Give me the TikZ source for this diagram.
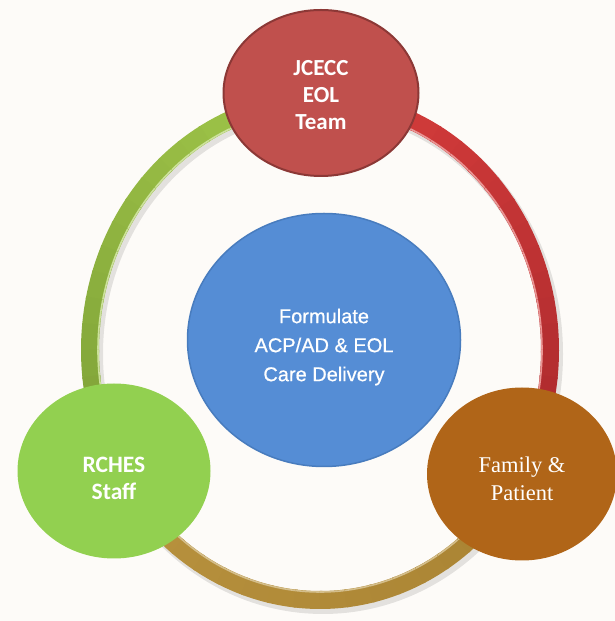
\documentclass[tikz,border=0pt]{standalone}
\usepackage{fontspec}
\usepackage{tikz}
\usepackage{xcolor}
\usetikzlibrary{shapes.geometric, calc, positioning}

\setmainfont{Liberation Serif}
\newfontfamily\calibri{Carlito}
\newfontfamily\arial[FakeBold=0.6]{Liberation Sans}

\definecolor{paper}{RGB}{253,251,248}
\definecolor{teamred}{RGB}{192,80,77}
\definecolor{teamedge}{RGB}{140,56,54}
\definecolor{careblue}{RGB}{85,141,213}
\definecolor{careedge}{RGB}{72,124,190}
\definecolor{staffgreen}{RGB}{146,208,80}
\definecolor{familybrown}{RGB}{176,101,24}
\definecolor{redtop}{RGB}{216,62,60}
\definecolor{redlow}{RGB}{168,40,44}
\definecolor{greentop}{RGB}{162,200,74}
\definecolor{greenlow}{RGB}{124,158,54}
\definecolor{goldleft}{RGB}{184,146,62}
\definecolor{goldright}{RGB}{168,130,50}

\begin{document}
\begin{tikzpicture}[
    x=1pt, y=1pt,
    member/.style={ellipse, inner sep=0pt},
    caption/.style={text=white, align=center},
    band/.style={line width=18pt},
    shine/.style={line width=1.6pt},
    bandshadow/.style={line width=20pt, black, opacity=0.10}
]
    % Canvas
    \fill[paper] (0,0) rectangle (615,621);
    \useasboundingbox (0,0) rectangle (615,621);

    % Centre of the ring
    \coordinate (hub) at (320,271);

    % Soft shadow under the ring
    \draw[bandshadow] ([shift={(3,-4)}]hub) ellipse [x radius=230, y radius=250];

    % Left arc (green), top to bottom left
    \foreach \i in {0,...,19}{
        \pgfmathsetmacro\a{90+\i*6}
        \pgfmathtruncatemacro\p{100-\i*5}
        \draw[band, draw=greentop!\p!greenlow] ([shift={(\a:230 and 250)}]hub)
            arc[start angle=\a, end angle=\a+6.6, x radius=230, y radius=250];
        \draw[shine, draw=white!45!greentop] ([shift={(\a:222 and 242)}]hub)
            arc[start angle=\a, end angle=\a+6.6, x radius=222, y radius=242];
    }

    % Right arc (red), top to bottom right
    \foreach \i in {0,...,19}{
        \pgfmathsetmacro\a{90-\i*6}
        \pgfmathtruncatemacro\p{100-\i*5}
        \draw[band, draw=redtop!\p!redlow] ([shift={(\a:230 and 250)}]hub)
            arc[start angle=\a, end angle=\a-6.6, x radius=230, y radius=250];
        \draw[shine, draw=white!45!redtop] ([shift={(\a:222 and 242)}]hub)
            arc[start angle=\a, end angle=\a-6.6, x radius=222, y radius=242];
    }

    % Bottom arc (gold)
    \foreach \i in {0,...,19}{
        \pgfmathsetmacro\a{206+\i*6.4}
        \pgfmathtruncatemacro\p{100-\i*5}
        \draw[band, draw=goldleft!\p!goldright] ([shift={(\a:230 and 250)}]hub)
            arc[start angle=\a, end angle=\a+7, x radius=230, y radius=250];
        \draw[shine, draw=white!40!goldleft] ([shift={(\a:222 and 242)}]hub)
            arc[start angle=\a, end angle=\a+7, x radius=222, y radius=242];
    }

    % Members round the ring
    \node[member, fill=teamred, draw=teamedge, line width=2pt,
          minimum width=195pt, minimum height=166pt,
          label={[caption, font=\calibri\bfseries\fontsize{23}{27}\selectfont, yshift=-2pt]center:JCECC\\EOL\\Team}]
          (team) at (321,528) {};
    \node[member, fill=staffgreen, minimum width=193pt, minimum height=175pt,
          label={[caption, font=\calibri\bfseries\fontsize{23.5}{27}\selectfont, yshift=-7pt]center:RCHES\\Staff}]
          (staff) at (114,150) {};
    \node[member, fill=familybrown, minimum width=190pt, minimum height=173pt,
          label={[caption, font=\fontsize{22.5}{28}\selectfont, yshift=-5pt]center:Family \&\\Patient}]
          (family) at (522,147) {};

    % Centre
    \node[member, fill=careblue, draw=careedge, line width=1.5pt,
          minimum width=273pt, minimum height=253pt,
          label={[caption, font=\arial\fontsize{20}{29}\selectfont, yshift=-7pt]center:Formulate\\ACP/AD \& EOL\\Care Delivery}]
          (care) at (324,281) {};
\end{tikzpicture}
\end{document}
